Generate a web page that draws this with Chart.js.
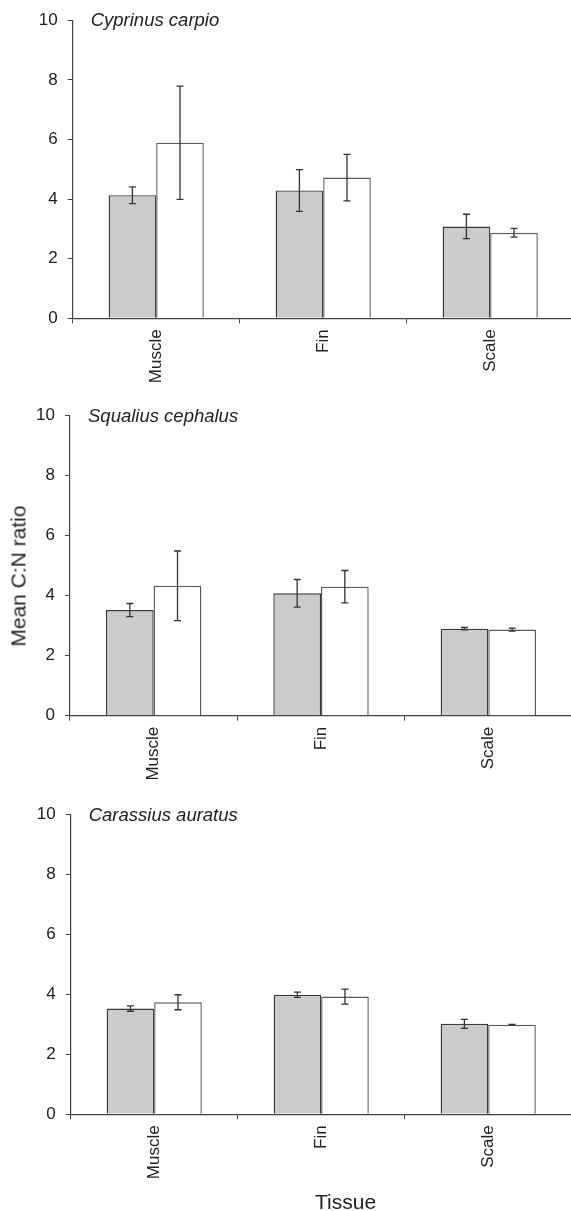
<!DOCTYPE html>
<html>
<head>
<meta charset="utf-8">
<script src="https://cdn.jsdelivr.net/npm/chart.js@4.4.1/dist/chart.umd.min.js"></script>
<style>
  html, body { margin: 0; padding: 0; background: #fff; overflow: hidden; width: 571px; height: 1211px; }
  .panel { position: absolute; left: 0; }
  .lbl { position: absolute; font-family: "Liberation Sans", Arial, sans-serif; color: #222; font-size: 21px; line-height: 21px; white-space: nowrap; }
  #ytitle { left: 18px; top: 576px; transform: translate(-50%, -50%) rotate(-90deg); }
  #xtitle { left: 315px; top: 1191px; }
</style>
</head>
<body>
<div class="panel" style="top:0"><canvas id="c1" width="580" height="390"></canvas></div>
<div class="panel" style="top:390px"><canvas id="c2" width="580" height="400"></canvas></div>
<div class="panel" style="top:790px"><canvas id="c3" width="580" height="421"></canvas></div>
<div class="lbl" id="ytitle">Mean C:N ratio</div>
<div class="lbl" id="xtitle">Tissue</div>

<script>
// ── Data ────────────────────────────────────────────────────────────
const tissues = ['Muscle', 'Fin', 'Scale'];
const yTicks = [0, 2, 4, 6, 8, 10];

// Cyprinus carpio
const carpioGrey = [4.13, 4.29, 3.08];
const carpioGreyErr = [0.28, 0.70, 0.41];
const carpioWhite = [5.89, 4.72, 2.87];
const carpioWhiteErr = [1.90, 0.78, 0.145];

// Squalius cephalus
const squaliusGrey = [3.52, 4.08, 2.90];
const squaliusGreyErr = [0.22, 0.46, 0.04];
const squaliusWhite = [4.33, 4.30, 2.87];
const squaliusWhiteErr = [1.16, 0.54, 0.05];

// Carassius auratus
const carassiusGrey = [3.53, 3.99, 3.02];
const carassiusGreyErr = [0.09, 0.09, 0.15];
const carassiusWhite = [3.74, 3.93, 2.99];
const carassiusWhiteErr = [0.25, 0.25, 0.01];

const FONT = '"Liberation Sans", Arial, sans-serif';

// ── Error bars drawn through the y scale ────────────────────────────
const errorBars = {
  id: 'errorBars',
  afterDatasetsDraw(chart) {
    const ctx = chart.ctx, y = chart.scales.y;
    ctx.save();
    ctx.strokeStyle = '#333';
    ctx.lineWidth = 1.3;
    chart.data.datasets.forEach(function(ds, i) {
      chart.getDatasetMeta(i).data.forEach(function(bar, j) {
        const v = ds.data[j], e = ds.errors[j];
        const top = y.getPixelForValue(v + e), bot = y.getPixelForValue(v - e);
        const x = bar.x;
        ctx.beginPath();
        ctx.moveTo(x, top); ctx.lineTo(x, bot);
        ctx.moveTo(x - 3.5, top); ctx.lineTo(x + 3.5, top);
        ctx.moveTo(x - 3.5, bot); ctx.lineTo(x + 3.5, bot);
        ctx.stroke();
      });
    });
    ctx.restore();
  }
};

// ── Species name in the top-left of each plot ──────────────────────
const speciesLabel = {
  id: 'speciesLabel',
  afterDraw(chart, args, opts) {
    const ctx = chart.ctx, a = chart.chartArea;
    ctx.save();
    ctx.font = 'italic 18.5px ' + FONT;
    ctx.fillStyle = '#222';
    ctx.textBaseline = 'middle';
    ctx.fillText(opts.text, a.left + 18, a.top + 1);
    ctx.restore();
  }
};

function makePanel(id, species, grey, greyErr, white, whiteErr, g) {
  return new Chart(document.getElementById(id), {
    type: 'bar',
    data: {
      labels: tissues,
      datasets: [
        { label: 'grey', data: grey, errors: greyErr, backgroundColor: '#cacccb', borderColor: '#3a3a3a', borderWidth: 1.4 },
        { label: 'white', data: white, errors: whiteErr, backgroundColor: '#ffffff', borderColor: '#5a5a5a', borderWidth: 1.4 }
      ]
    },
    plugins: [errorBars, speciesLabel],
    options: {
      responsive: false,
      animation: false,
      categoryPercentage: 0.57,
      barPercentage: 1.0,
      layout: { padding: { top: g.top, right: g.right, left: 0, bottom: 0 } },
      plugins: {
        legend: { display: false },
        tooltip: { enabled: false },
        speciesLabel: { text: species }
      },
      scales: {
        x: {
          afterFit: function(s) { s.height = g.xh; },
          grid: { offset: true, drawOnChartArea: false, tickLength: 5, color: '#444', lineWidth: 1 },
          border: { color: '#444', width: 1.2 },
          ticks: { autoSkip: false, minRotation: 90, maxRotation: 90, padding: 6, color: '#222', font: { family: FONT, size: 17 } }
        },
        y: {
          min: 0, max: 10,
          afterFit: function(s) { s.width = g.yw; },
          afterBuildTicks: function(s) { s.ticks = yTicks.map(function(v) { return { value: v }; }); },
          grid: { drawOnChartArea: false, tickLength: 5, color: '#444', lineWidth: 1 },
          border: { color: '#444', width: 1.2 },
          ticks: { padding: 10, color: '#222', font: { family: FONT, size: 17 } }
        }
      }
    }
  });
}

makePanel('c1', 'Cyprinus carpio', carpioGrey, carpioGreyErr, carpioWhite, carpioWhiteErr,
  { top: 19, right: 6.3, yw: 72.7, xh: 71.7 });
makePanel('c2', 'Squalius cephalus', squaliusGrey, squaliusGreyErr, squaliusWhite, squaliusWhiteErr,
  { top: 25.7, right: 8, yw: 70, xh: 74.3 });
makePanel('c3', 'Carassius auratus', carassiusGrey, carassiusGreyErr, carassiusWhite, carassiusWhiteErr,
  { top: 24.7, right: 8.3, yw: 70.7, xh: 96.7 });
</script>
</body>
</html>
